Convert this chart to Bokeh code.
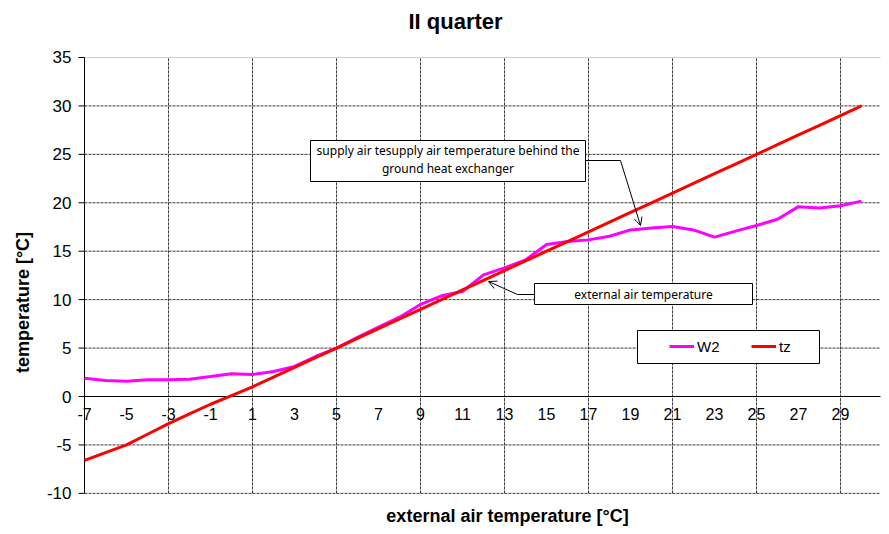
import math
from bokeh.plotting import figure
from bokeh.models import (Range1d, Label, BoxAnnotation, Arrow, OpenHead, Legend,
                          LegendItem, ColumnDataSource)
from bokeh.core.properties import value
from bokeh.embed import file_html
from bokeh.resources import INLINE

# ---------------- data ----------------
x_cat = [-7, -6, -5, -4, -3, -2, -1, 0, 1, 2, 3, 4, 5, 6, 7, 8, 9, 10, 11, 12,
         13, 14, 15, 16, 17, 18, 19, 20, 21, 22, 23, 24, 25, 26, 27, 28, 29, 30]
w2 = [1.89, 1.65, 1.58, 1.72, 1.72, 1.79, 2.06, 2.34, 2.27, 2.58, 3.10, 4.13,
      4.99, 6.10, 7.16, 8.19, 9.50, 10.40, 10.84, 12.56, 13.28, 14.10, 15.69,
      16.00, 16.17, 16.55, 17.20, 17.40, 17.55, 17.20, 16.45, 17.07, 17.65,
      18.30, 19.60, 19.45, 19.70, 20.17]
tz = [-6.6, -5.8, -5.0, -3.9, -2.8, -1.8, -0.8, 0.1, 1.0, 2, 3, 4, 5, 6, 7, 8,
      9, 10, 11, 12, 13, 14, 15, 16, 17, 18, 19, 20, 21, 22, 23, 24, 25, 26,
      27, 28, 29, 30]
x_tick_vals = [-7, -5, -3, -1, 1, 3, 5, 7, 9, 11, 13, 15, 17, 19, 21, 23, 25, 27, 29]
x_tick_labels = [str(v) for v in x_tick_vals]
x_grid_vals = [-3, 1, 5, 9, 13, 17, 21, 25, 29]
y_ticks = [-10, -5, 0, 5, 10, 15, 20, 25, 30, 35]
y_tick_labels = [str(v) for v in y_ticks]
y_grid_vals = [-10, -5, 5, 10, 15, 20, 25, 30]

FONT = "Liberation Sans"
NOTE_FONT = "Noto Sans"

W, H = 881, 526


# pixel -> data helpers (plot area: x=-7 at px 84, 21 px/unit; y=0 at px 396, 9.686 px/unit)
def dx(px):
    return -7 + (px - 84) / 21.0


def dy(py):
    return (396 - py) / 9.686


X_MIN, X_MAX = -7, dx(880)
Y_MIN, Y_MAX = -10, 35

p = figure(width=W, height=H, frame_width=W, frame_height=H,
           x_range=Range1d(dx(0), dx(W)), y_range=Range1d(dy(H), dy(0)),
           output_backend="svg", toolbar_location=None,
           x_axis_location=None, y_axis_location=None,
           min_border=0, min_border_left=0, min_border_right=0,
           min_border_top=0, min_border_bottom=0)
p.outline_line_color = None
p.xgrid.visible = False
p.ygrid.visible = False
p.background_fill_color = "white"
p.border_fill_color = "white"

GRID_C = "#3a3a3a"
# vertical grid lines
p.segment(x0=x_grid_vals, y0=[Y_MIN] * len(x_grid_vals), x1=x_grid_vals,
          y1=[Y_MAX] * len(x_grid_vals), line_color=GRID_C, line_dash="3 1", line_width=1)
# horizontal grid lines
p.segment(x0=[X_MIN] * len(y_grid_vals), y0=y_grid_vals, x1=[X_MAX] * len(y_grid_vals),
          y1=y_grid_vals, line_color=GRID_C, line_dash="3 1", line_width=1)
# top border of plot area
p.segment(x0=[X_MIN], y0=[Y_MAX], x1=[X_MAX], y1=[Y_MAX], line_color="#d0d0d0", line_width=1)
# zero line (category axis)
p.segment(x0=[X_MIN], y0=[0], x1=[X_MAX], y1=[0], line_color="black", line_width=1)
# value axis line
p.segment(x0=[X_MIN], y0=[Y_MIN], x1=[X_MIN], y1=[Y_MAX], line_color="black", line_width=1)
# value axis tick marks (6 px outside)
p.segment(x0=[X_MIN - 6 / 21.0] * len(y_ticks), y0=y_ticks, x1=[X_MIN] * len(y_ticks),
          y1=y_ticks, line_color="black", line_width=1)
# value axis labels
p.text(x=[X_MIN] * len(y_ticks), y=y_ticks, text=y_tick_labels, x_offset=-13,
       text_font=value(FONT), text_font_size="17px", text_color="black",
       text_align="right", text_baseline="middle")
# category labels along the y=0 line
p.text(x=x_tick_vals, y=[0] * len(x_tick_vals), text=x_tick_labels,
       text_font=value(FONT), text_font_size="16px", text_color="black",
       text_align="center", text_baseline="middle", y_offset=17)

# series
src = ColumnDataSource(dict(x=x_cat, w2=w2, tz=tz))
r_w2 = p.line("x", "w2", source=src, line_color="#FF00FF", line_width=3)
r_tz = p.line("x", "tz", source=src, line_color="#FF0000", line_width=3)

# titles
p.add_layout(Label(x=dx(455), y=dy(21), text="II quarter", text_font=FONT,
                   text_font_size="22px", text_font_style="bold", text_color="black",
                   text_align="center", text_baseline="middle"))
p.add_layout(Label(x=dx(507), y=dy(515), text="external air temperature [°C]",
                   text_font=FONT, text_font_size="18px", text_font_style="bold",
                   text_color="black", text_align="center", text_baseline="middle"))
p.add_layout(Label(x=dx(22), y=dy(302), text="temperature [°C]", angle=math.pi / 2,
                   text_font=FONT, text_font_size="18px", text_font_style="bold",
                   text_color="black", text_align="center", text_baseline="middle"))

# callout 1
p.add_layout(BoxAnnotation(left=dx(310), right=dx(585), top=dy(140), bottom=dy(181),
                           fill_color="white", fill_alpha=1, line_color="black",
                           line_width=1, line_alpha=1))
p.add_layout(Label(x=dx(447.5), y=dy(150), text="supply air tesupply air temperature behind the",
                   text_font=NOTE_FONT, text_font_size="12px", text_color="black",
                   text_align="center", text_baseline="middle"))
p.add_layout(Label(x=dx(447.5), y=dy(168), text="ground heat exchanger",
                   text_font=NOTE_FONT, text_font_size="12px", text_color="black",
                   text_align="center", text_baseline="middle"))
p.add_layout(Arrow(x_start=dx(585), y_start=dy(160), x_end=dx(620), y_end=dy(160),
                   end=None, line_color="black", line_width=1))
p.add_layout(Arrow(x_start=dx(620), y_start=dy(160), x_end=dx(640), y_end=dy(225),
                   end=OpenHead(size=8, line_color="black", line_width=1),
                   line_color="black", line_width=1))

# callout 2
p.add_layout(BoxAnnotation(left=dx(534), right=dx(752), top=dy(283), bottom=dy(304),
                           fill_color="white", fill_alpha=1, line_color="black",
                           line_width=1, line_alpha=1))
p.add_layout(Label(x=dx(643), y=dy(293.5), text="external air temperature",
                   text_font=NOTE_FONT, text_font_size="12px", text_color="black",
                   text_align="center", text_baseline="middle"))
p.add_layout(Arrow(x_start=dx(534), y_start=dy(294), x_end=dx(517), y_end=dy(294),
                   end=None, line_color="black", line_width=1))
p.add_layout(Arrow(x_start=dx(517), y_start=dy(294), x_end=dx(488), y_end=dy(281),
                   end=OpenHead(size=8, line_color="black", line_width=1),
                   line_color="black", line_width=1))

# legend box + legend
p.add_layout(BoxAnnotation(left=dx(637), right=dx(819), top=dy(330), bottom=dy(363),
                           fill_color="white", fill_alpha=1, line_color="black",
                           line_width=1, line_alpha=1))
legend = Legend(items=[LegendItem(label="W2", renderers=[r_w2]),
                       LegendItem(label="tz", renderers=[r_tz])],
                orientation="horizontal", location=(669, H - 356),
                padding=0, margin=0, spacing=24, glyph_width=25, glyph_height=20,
                label_height=20, label_width=30, label_standoff=3, label_text_font=FONT,
                label_text_font_size="15px", label_text_color="black",
                border_line_color=None, background_fill_alpha=0)
p.add_layout(legend)

open("out.html", "w").write(file_html(p, INLINE))
